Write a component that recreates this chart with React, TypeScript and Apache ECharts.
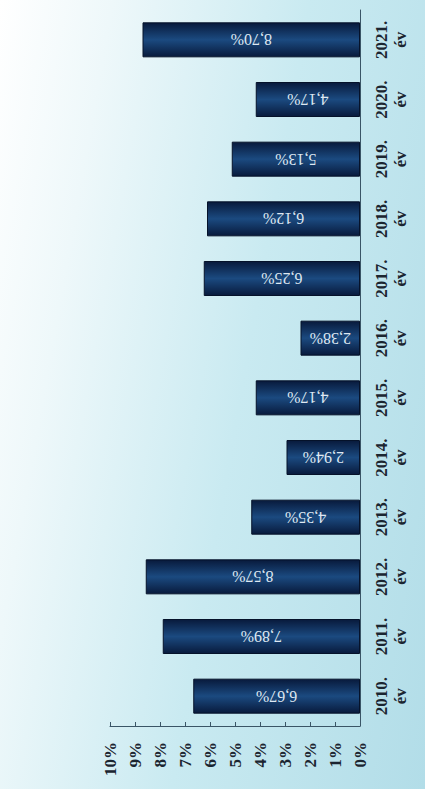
import React, { useEffect, useRef } from "react";
import * as echarts from "echarts";

const categories = ["2010.", "2011.", "2012.", "2013.", "2014.", "2015.", "2016.", "2017.", "2018.", "2019.", "2020.", "2021."];
const values = [6.67, 7.89, 8.57, 4.35, 2.94, 4.17, 2.38, 6.25, 6.12, 5.13, 4.17, 8.7];
const yearSuffix = "év";

export default function App() {
  const ref = useRef<HTMLDivElement>(null);
  useEffect(() => {
    if (!ref.current) return;
    const chart = echarts.init(ref.current, null, { renderer: "svg" });
    const font = "'Liberation Serif', 'DejaVu Serif', serif";
    chart.setOption({
      animation: false,
      grid: { left: 110, right: 65, top: 10, bottom: 63, containLabel: false },
      xAxis: {
        type: "value",
        inverse: true,
        min: 0,
        max: 10,
        interval: 1,
        position: "bottom",
        splitLine: { show: false },
        axisLine: { show: true, lineStyle: { color: "#3a5566", width: 1 } },
        axisTick: { show: true, inside: true, length: 4, lineStyle: { color: "#3a5566" } },
        axisLabel: {
          rotate: 90,
          formatter: (v: number) => v + "%",
          fontFamily: font,
          fontWeight: "bold",
          fontSize: 17,
          color: "#1b2530",
          margin: 16,
        },
      },
      yAxis: {
        type: "category",
        data: categories,
        position: "right",
        axisLine: { show: true, lineStyle: { color: "#3a5566", width: 1 } },
        axisTick: { show: false },
        axisLabel: {
          rotate: 90,
          formatter: (v: string) => v + "\n" + yearSuffix,
          fontFamily: font,
          fontWeight: "bold",
          fontSize: 17,
          lineHeight: 19,
          color: "#1b2530",
          margin: 12,
          align: "center",
          verticalAlign: "top",
        },
      },
      series: [
        {
          type: "bar",
          data: values,
          barWidth: 35,
          itemStyle: {
            color: new echarts.graphic.LinearGradient(0, 0, 0, 1, [
              { offset: 0, color: "#081a3c" },
              { offset: 0.5, color: "#1b4a80" },
              { offset: 1, color: "#081a3c" },
            ]),
            borderColor: "#05122a",
            borderWidth: 1,
          },
          label: {
            show: true,
            position: "inside",
            rotate: 180,
            formatter: (p: any) => p.value.toFixed(2).replace(".", ",") + "%",
            fontFamily: font,
            fontSize: 16,
            color: "#dfe8f2",
          },
        },
      ],
    });
    return () => chart.dispose();
  }, []);
  return (
    <div
      ref={ref}
      style={{
        position: "fixed",
        left: 0,
        top: 0,
        width: 425,
        height: 789,
        background: "linear-gradient(100deg, #ffffff 0%, #eef8fa 20%, #c9eaf1 55%, #b2dde8 100%)",
      }}
    />
  );
}
